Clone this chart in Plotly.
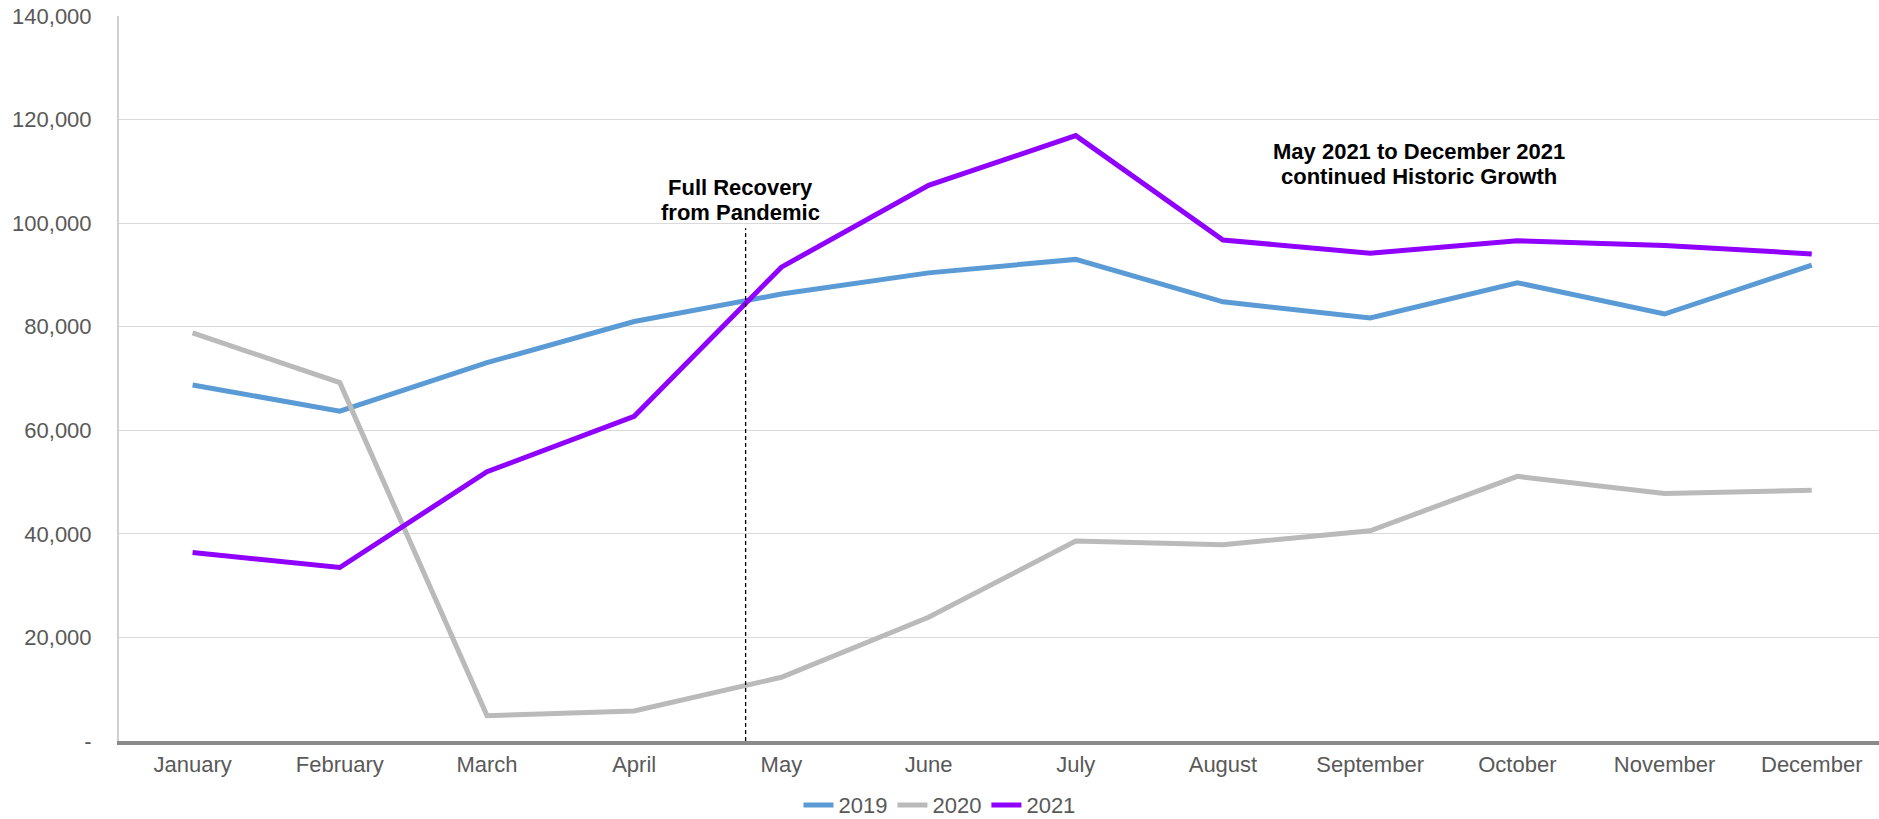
import plotly.graph_objects as go

months = ["January", "February", "March", "April", "May", "June", "July",
          "August", "September", "October", "November", "December"]
v2019 = [68750, 63700, 73050, 81000, 86300, 90400, 93000, 84800, 81700, 88500, 82450, 91900]
v2020 = [78800, 69200, 4900, 5800, 12300, 23900, 38600, 37900, 40600, 51100, 47800, 48400]
v2021 = [36400, 33500, 52000, 62700, 91500, 107300, 116900, 96750, 94200, 96600, 95700, 94050]

ytick_vals = [0, 20000, 40000, 60000, 80000, 100000, 120000, 140000]
ytick_text = ["-", "20,000", "40,000", "60,000", "80,000", "100,000", "120,000", "140,000"]

recovery_x = 3.757
recovery_top = 99000

FONT = "Liberation Sans, Arial, sans-serif"
TICK_COLOR = "#595959"

fig = go.Figure()
x_idx = list(range(len(months)))
for name, vals, color in [("2019", v2019, "#5B9BD5"),
                          ("2020", v2020, "#BABABA"),
                          ("2021", v2021, "#8F00FF")]:
    fig.add_trace(go.Scatter(x=x_idx, y=vals, mode="lines", name=name,
                             line=dict(color=color, width=5)))

fig.add_shape(type="line", xref="x", yref="y",
              x0=recovery_x, x1=recovery_x, y0=0, y1=recovery_top,
              line=dict(color="#000000", width=1.3, dash="4px,3px"))

ann_font = dict(family=FONT, size=22, color="#000000")
for txt, x, y in [("<b>Full Recovery</b>", 3.72, 106980),
                  ("<b>from Pandemic</b>", 3.72, 102150),
                  ("<b>May 2021 to December 2021</b>", 8.33, 113930),
                  ("<b>continued Historic Growth</b>", 8.33, 109100)]:
    fig.add_annotation(x=x, y=y, xref="x", yref="y", text=txt, showarrow=False,
                       xanchor="center", yanchor="middle", font=ann_font)

fig.update_layout(
    width=1879, height=819,
    margin=dict(l=119, r=0, t=16, b=78),
    paper_bgcolor="white", plot_bgcolor="white",
    font=dict(family=FONT, size=22, color=TICK_COLOR),
    showlegend=True,
    legend=dict(orientation="h", xref="container", yref="container",
                x=0.5, y=0.017, xanchor="center", yanchor="middle",
                font=dict(family=FONT, size=22, color=TICK_COLOR),
                bgcolor="rgba(0,0,0,0)", itemwidth=30, tracegroupgap=0),
    xaxis=dict(range=[-0.5, 11.457], tickmode="array", tickvals=x_idx, ticktext=months,
               showgrid=False, zeroline=False, showline=True, linecolor="#8a8a8a",
               linewidth=4, ticks="", tickfont=dict(size=22, color=TICK_COLOR),
               ticklabelstandoff=1),
    yaxis=dict(range=[0, 140000], tickmode="array", tickvals=ytick_vals, ticktext=ytick_text,
               showgrid=True, gridcolor="#d9d9d9", gridwidth=1, zeroline=False,
               showline=True, linecolor="#d0d0d0", linewidth=2, ticks="",
               tickfont=dict(size=22, color=TICK_COLOR), ticklabelstandoff=21),
)

fig.write_html("out.html", config={"displayModeBar": False},
               post_script="document.body.style.margin='0';document.body.style.overflow='hidden';")
